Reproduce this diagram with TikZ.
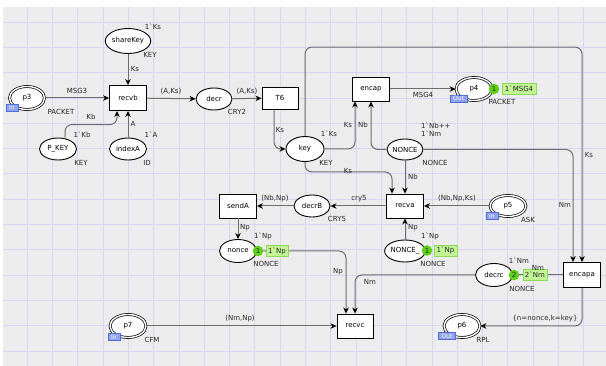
\documentclass[tikz,border=0pt]{standalone}
\usepackage{fontspec}
\newfontfamily\cpn{DejaVu Sans}
\usetikzlibrary{arrows.meta,shapes.geometric}
\definecolor{bg}{HTML}{ECECEC}
\definecolor{gridc}{HTML}{D6D6F4}
\definecolor{arcc}{HTML}{6E6E6E}
\definecolor{tokg}{HTML}{5CD016}
\definecolor{tokl}{HTML}{C2F496}
\definecolor{tokd}{HTML}{8CD85A}
\definecolor{tagf}{HTML}{8FA3EE}
\definecolor{tagd}{HTML}{4E6CDA}
\tikzset{
  txt/.style={font=\cpn\fontsize{7}{8}\selectfont, text=black!85, inner sep=0pt},
  place/.style={ellipse, draw=black, line width=0.9pt, fill=white, inner sep=0pt,
    minimum width=37pt, minimum height=23pt, font=\cpn\fontsize{7}{8}\selectfont},
  port/.style={place, double=white, double distance=1.4pt, line width=0.7pt},
  trans/.style={rectangle, draw=black, line width=0.9pt, fill=white, inner sep=0pt,
    minimum width=37pt, minimum height=24pt, font=\cpn\fontsize{7}{8}\selectfont},
  arc/.style={draw=arcc, line width=1pt, rounded corners=7pt,
    -{Stealth[length=6pt,width=5.5pt,inset=1.8pt,color=black]}},
  plainarc/.style={draw=arcc, line width=1pt},
  tag/.style={rectangle, draw=tagd, fill=tagf, line width=0.6pt, inner sep=0pt,
    minimum height=7pt, font=\cpn\fontsize{6}{6}\selectfont, text=white},
  tokc/.style={circle, fill=tokg, inner sep=0pt, minimum size=10.5pt,
    font=\cpn\fontsize{7}{8}\selectfont, text=black!80},
  tokr/.style={rectangle, fill=tokl, draw=tokd, line width=0.5pt, inner sep=0pt,
    minimum height=11pt, font=\cpn\fontsize{7}{8}\selectfont, text=black!85}
}
\begin{document}
\begin{tikzpicture}[x=1pt,y=-1pt]
\useasboundingbox (0,0) rectangle (606,366);
\fill[white] (0,0) rectangle (606,366);
\fill[bg] (3,7) rectangle (606,366);
\foreach \i in {0,...,23} \draw[gridc, line width=0.6pt] ({27+25.3*\i},7) -- ({27+25.3*\i},366);
\foreach \j in {0,...,13} \draw[gridc, line width=0.6pt] (3,{22+25.3*\j}) -- (606,{22+25.3*\j});

% places and transitions
\node[place, minimum height=25pt] (shareKey) at (128,41) {shareKey};
\node[trans, minimum height=25pt] (recvb) at (128,98) {recvb};
\node[port, minimum width=35pt] (p3) at (27,98) {p3};
\node[place, minimum height=22pt] (PKEY) at (58,149) {P\_KEY};
\node[place, minimum height=22pt] (indexA) at (128,149) {indexA};
\node[place, minimum width=36pt, minimum height=22pt] (decr) at (214,99) {decr};
\node[trans, minimum width=36pt, minimum height=22pt] (T6) at (280,98) {T6};
\node[place, minimum width=38pt, minimum height=25pt] (key) at (305,149) {key};
\node[trans] (encap) at (371,89) {encap};
\node[port, minimum width=36pt] (p4) at (474,89) {p4};
\node[place, minimum width=36pt, minimum height=21pt] (NONCE) at (405,149.5) {NONCE};
\node[trans] (recva) at (405,206) {recva};
\node[port, minimum width=36pt, minimum height=21pt] (p5) at (508,206) {p5};
\node[place, minimum width=36pt, minimum height=22pt] (decrB) at (312,206) {decrB};
\node[trans] (sendA) at (238,206) {sendA};
\node[place] (nonce) at (238,251) {nonce};
\node[place, minimum width=36pt, minimum height=22pt] (NONCEu) at (405,251) {NONCE\_};
\node[place] (decrc) at (494,275) {decrc};
\node[trans, minimum height=25pt] (encapa) at (582,275) {encapa};
\node[trans, minimum width=36pt] (recvc) at (355,326) {recvc};
\node[port, minimum width=36pt] (p6) at (462,326) {p6};
\node[port, minimum width=36pt] (p7) at (128,326) {p7};

% arcs
\draw[arc] (p3) -- (recvb);
\draw[arc] (shareKey) -- (recvb);
\draw[arc] ([xshift=7pt]PKEY.north) -- ++(0,-13) -| ([xshift=-11pt]recvb.south);
\draw[arc] (indexA) -- (recvb);
\draw[arc] (recvb) -- (decr);
\draw[arc] (decr) -- (T6);
\draw[arc] ([xshift=-6pt]T6.south) |- (key.west);
\draw[arc] (key.east) -| ([xshift=-16pt]encap.south);
\draw[arc] (NONCE.west) -| (encap.south);
\draw[arc] (encap) -- (p4);
\draw[arc] (key.north) -- ++(0,-89) -| (encapa.north);
\draw[arc] (NONCE.east) -| ([xshift=-9pt]encapa.north);
\draw[arc] (NONCE) -- (recva);
\draw[arc] (key.south) -- ++(0,10) -| ([xshift=-13pt]recva.north);
\draw[arc] (p5) -- (recva);
\draw[arc] (recva) -- (decrB);
\draw[arc] (decrB) -- (sendA);
\draw[arc] (sendA) -- (nonce);
\draw[arc] (NONCEu) -- (recva);
\draw[arc] (nonce.east) -| ([xshift=-9pt]recvc.north);
\draw[arc] (decrc.west) -| (recvc.north);
\draw[plainarc] (decrc) -- (encapa);
\draw[arc] (p7) -- (recvc);
\draw[arc] (encapa.south) |- (p6.east);

% port tags
\node[tag, minimum width=12pt] (t3) at (12,107.5) {In};
\node[tag, minimum width=17pt] (t4) at (458.5,98.5) {Out};
\node[tag, minimum width=12pt] (t5) at (492,216) {In};
\node[tag, minimum width=17pt] (t6) at (447,336) {Out};
\node[tag, minimum width=12pt] (t7) at (114,337) {In};

% tokens
\node[tokc] (k4) at (494,89) {1};
\node[tokr, minimum width=34pt] (m4) at (519,89) {1`MSG4};
\node[tokc] (kn) at (258,251) {1};
\node[tokr, minimum width=22pt] (mn) at (277,251) {1`Np};
\node[tokc] (kN) at (427,250.5) {1};
\node[tokr, minimum width=23pt] (mN) at (445.5,250.5) {1`Np};
\node[tokc] (kd) at (514,275) {2};
\node[tokr, minimum width=24pt] (md) at (535,275) {2`Nm};

% labels
\node[txt] (a1) at (153,27) {1`Ks};
\node[txt] (a2) at (150,55) {KEY};
\node[txt] (a3) at (135,69) {Ks};
\node[txt] (a4) at (77,91) {MSG3};
\node[txt] (a5) at (61,112) {PACKET};
\node[txt] (a6) at (171,91) {(A,Ks)};
\node[txt] (a7) at (91,117) {Kb};
\node[txt] (a8) at (133,124) {A};
\node[txt] (a9) at (82,135) {1`Kb};
\node[txt] (a10) at (81,163) {KEY};
\node[txt] (a11) at (151,135) {1`A};
\node[txt] (a12) at (147,163) {ID};
\node[txt] (a13) at (237,112) {CRY2};
\node[txt] (a14) at (247,91) {(A,Ks)};
\node[txt] (a15) at (280,130) {Ks};
\node[txt] (a16) at (329,134) {1`Ks};
\node[txt] (a17) at (326,163) {KEY};
\node[txt] (a18) at (348,125) {Ks};
\node[txt] (a19) at (363,125) {Nb};
\node[txt] (a20) at (423,95) {MSG4};
\node[txt] (a21) at (502,102) {PACKET};
\node[txt, anchor=west] (a22) at (421,126) {1`Nb++};
\node[txt, anchor=west] (a23) at (421,134) {1`Nm};
\node[txt] (a24) at (435,163) {NONCE};
\node[txt] (a25) at (589,155) {Ks};
\node[txt] (a26) at (413,177) {Nb};
\node[txt] (a27) at (348,171) {Ks};
\node[txt] (a28) at (457,199) {(Nb,Np,Ks)};
\node[txt] (a29) at (528,220) {ASK};
\node[txt] (a30) at (565,205) {Nm};
\node[txt] (a31) at (359,199) {cry5};
\node[txt] (a32) at (337,219) {CRY5};
\node[txt] (a33) at (275,199) {(Nb,Np)};
\node[txt] (a34) at (245,228) {Np};
\node[txt] (a35) at (263,236) {1`Np};
\node[txt] (a36) at (266,264) {NONCE};
\node[txt] (a37) at (338,272) {Np};
\node[txt] (a38) at (370,282) {Nm};
\node[txt] (a39) at (240,319) {(Nm,Np)};
\node[txt] (a40) at (152,340) {CFM};
\node[txt] (a41) at (413,228) {Np};
\node[txt] (a42) at (430,236) {1`Np};
\node[txt] (a43) at (433,264) {NONCE};
\node[txt] (a44) at (519,261) {1`Nm};
\node[txt] (a45) at (538,268) {Nm};
\node[txt] (a46) at (522,289) {NONCE};
\node[txt] (a47) at (545,319) {\{n=nonce,k=key\}};
\node[txt] (a48) at (483,340) {RPL};
\end{tikzpicture}
\end{document}
